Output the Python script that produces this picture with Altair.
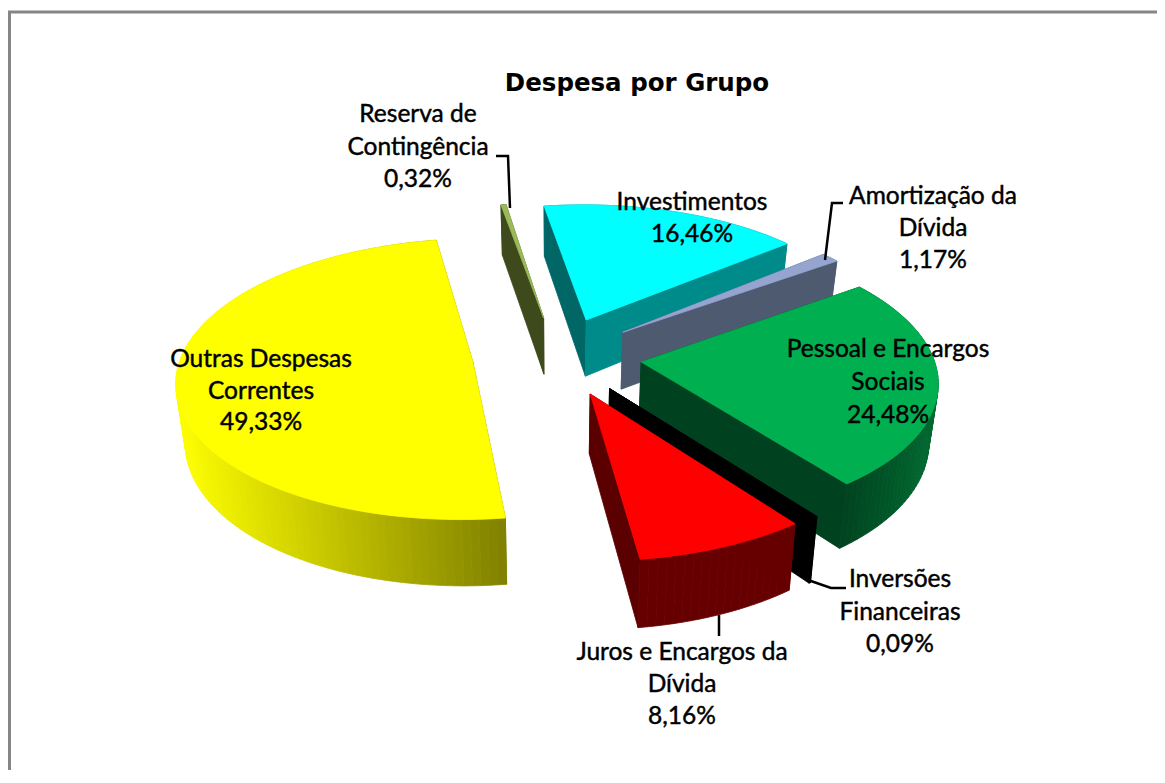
import math
import altair as alt
import pandas as pd

# ---- chart values (clockwise from the top of the pie) ----
categories = ["Reserva de Contingência", "Investimentos", "Amortização da Dívida",
              "Pessoal e Encargos Sociais", "Inversões Financeiras",
              "Juros e Encargos da Dívida", "Outras Despesas Correntes"]
shares = [0.32, 16.46, 1.17, 24.48, 0.09, 8.16, 49.33]
share_labels = ["0,32%", "16,46%", "1,17%", "24,48%", "0,09%", "8,16%", "49,33%"]
label_lines = [["Reserva de", "Contingência"], ["Investimentos"], ["Amortização da", "Dívida"],
               ["Pessoal e Encargos", "Sociais"], ["Inversões", "Financeiras"],
               ["Juros e Encargos da", "Dívida"], ["Outras Despesas", "Correntes"]]
title_text = "Despesa por Grupo"

# ---- styling ----
top_colors = ["#9bbb59", "#00ffff", "#95a5d0", "#00b050", "#000000", "#ff0000", "#ffff00"]
start_wall = ["#3f4a1c", "#006666", "#4d5a70", "#00421f", "#000000", "#660000", "#808000"]
end_wall = ["#3f4a1c", "#008b8b", "#4d5a70", "#00421f", "#000000", "#5a0000", "#808000"]
arc_wall = [("#3f4a1c", "#3f4a1c"), ("#008b8b", "#008b8b"), ("#4d5a70", "#4d5a70"),
            ("#00421f", "#006a30"), ("#000000", "#000000"), ("#660000", "#660000"),
            ("#ffff00", "#808000")]
label_x = [418, 692, 933, 888, 900, 682, 261]
label_y = [115, 203, 197, 350, 580, 653, 360]
line_step = [32.5, 32, 32, 33, 32.5, 32, 31.5]
LABEL_FONT = "Lato"
LABEL_SIZE = 24.5

# ---- projection of the 3-D pie ----
CX, CY, RX, RY, DEPTH, PERSP, EXPLODE, SHRINK, ROT = 557, 356, 292, 137, 58, 0.12, 0.29, 0.975, -10


def project(u, v, bottom=False):
    k = 1 / (1 + PERSP * v)
    x = CX + RX * u * k
    y = CY - RY * v * k
    if bottom:
        x = CX + (x - CX) * SHRINK
        y = y + DEPTH * k
    return x, y


def lerp(c0, c1, t):
    a = [int(c0[i:i + 2], 16) for i in (1, 3, 5)]
    b = [int(c1[i:i + 2], 16) for i in (1, 3, 5)]
    return "#%02x%02x%02x" % tuple(round(p + (q - p) * t) for p, q in zip(a, b))


rows = []
poly_id = 0


def add_poly(points, color):
    global poly_id
    closed = list(points) + [points[0]]
    for i, (x, y) in enumerate(closed):
        rows.append({"poly": poly_id, "i": i, "x": x, "y": y, "color": color})
    poly_id += 1


total = sum(shares)
angle = ROT
for s, share in enumerate(shares):
    span = share / total * 360
    a0, a1 = angle, angle + span
    angle = a1
    mid = math.radians((a0 + a1) / 2)
    ou, ov = EXPLODE * math.sin(mid), EXPLODE * math.cos(mid)
    n = max(2, int(span / 1.5))
    arc = []
    for j in range(n + 1):
        t = math.radians(a0 + (a1 - a0) * j / n)
        arc.append((ou + math.sin(t), ov + math.cos(t)))
    apex = (ou, ov)

    walls = []
    walls.append(((apex[1] + arc[0][1]) / 2,
                  [project(*apex), project(*arc[0]), project(*arc[0], True), project(*apex, True)],
                  start_wall[s]))
    walls.append(((apex[1] + arc[-1][1]) / 2,
                  [project(*apex), project(*arc[-1]), project(*arc[-1], True), project(*apex, True)],
                  end_wall[s]))
    xs = [project(*p)[0] for p in arc]
    xmin, xmax = min(xs), max(xs)
    for p, q in zip(arc[:-1], arc[1:]):
        xm = (project(*p)[0] + project(*q)[0]) / 2
        t = (xm - xmin) / (xmax - xmin) if xmax > xmin else 0
        if s == 3:  # green brightens towards its right end
            t = max(0, (xm - 845) / (xmax - 845))
        walls.append(((p[1] + q[1]) / 2,
                      [project(*p), project(*q), project(*q, True), project(*p, True)],
                      lerp(*arc_wall[s], t)))
    for _, pts, col in sorted(walls, key=lambda w: -w[0]):
        add_poly(pts, col)
    add_poly([project(*apex)] + [project(*p) for p in arc], top_colors[s])

df = pd.DataFrame(rows)

# ---- text ----
texts = [{"x": 637, "y": 84, "t": title_text, "kind": "title"}]
for s, lines in enumerate(label_lines):
    for j, line in enumerate(lines + [share_labels[s]]):
        texts.append({"x": label_x[s], "y": label_y[s] + j * line_step[s], "t": line, "kind": "label"})
tdf = pd.DataFrame(texts)

# ---- leader lines and frame ----
leaders = [
    [(496, 156), (508, 156), (510, 208)],
    [(843, 203), (832, 203), (825, 260)],
    [(846, 588), (831, 588), (808, 580)],
    [(719, 615), (719, 636)],
]
lrows = [{"id": n, "i": i, "x": p[0], "y": p[1]} for n, path in enumerate(leaders) for i, p in enumerate(path)]
ldf = pd.DataFrame(lrows)
frame = [(9.5, 800), (9.5, 12), (1170, 12)]
fdf = pd.DataFrame([{"i": i, "x": p[0], "y": p[1]} for i, p in enumerate(frame)])

W, H = 1149, 762
xs = alt.Scale(domain=[8, 8 + W], range=[0, W], nice=False)
ys = alt.Scale(domain=[8, 8 + H], range=[0, H], nice=False)
X = alt.X("x:Q", scale=xs, axis=None)
Y = alt.Y("y:Q", scale=ys, axis=None)

pie = alt.Chart(df).mark_line(strokeWidth=0.8, clip=True).encode(
    x=X, y=Y, detail="poly:N", order="i:Q",
    fill=alt.Fill("color:N", scale=None, legend=None),
    stroke=alt.Stroke("color:N", scale=None, legend=None),
)
frame_line = alt.Chart(fdf).mark_line(color="#868686", strokeWidth=3, clip=True).encode(x=X, y=Y, order="i:Q")
leader_lines = alt.Chart(ldf).mark_line(color="#000000", strokeWidth=2.5).encode(
    x=X, y=Y, detail="id:N", order="i:Q")
label_text = alt.Chart(tdf[tdf.kind == "label"]).mark_text(
    font=LABEL_FONT, fontSize=LABEL_SIZE, color="#000000", align="center", baseline="middle",
    stroke="#000000", strokeWidth=0.45
).encode(x=X, y=Y, text="t:N")
title_mark = alt.Chart(tdf[tdf.kind == "title"]).mark_text(
    font="DejaVu Sans", fontSize=24.5, fontWeight="bold", color="#000000", align="center", baseline="middle"
).encode(x=X, y=Y, text="t:N")

chart = alt.layer(frame_line, pie, leader_lines, label_text, title_mark).properties(
    width=W, height=H, padding=0, background="#ffffff",
    view=alt.ViewConfig(stroke=None),
)
chart.save("out.html", embed_options={"renderer": "svg", "actions": False})
